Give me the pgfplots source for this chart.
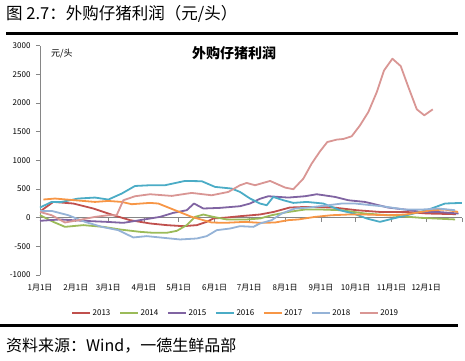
\documentclass[border=0pt]{standalone}
\usepackage{fontspec}
\setmainfont{Noto Sans CJK SC}
\usepackage{pgfplots}
\pgfplotsset{compat=1.18}
\definecolor{cA}{HTML}{C0504D}
\definecolor{cB}{HTML}{9BBB59}
\definecolor{cC}{HTML}{8064A2}
\definecolor{cD}{HTML}{4BACC6}
\definecolor{cE}{HTML}{F79646}
\definecolor{cF}{HTML}{95B3D7}
\definecolor{cG}{HTML}{D99694}
\definecolor{axgray}{HTML}{868686}
\begin{document}
\begin{tikzpicture}
\useasboundingbox (0,0) rectangle (465pt,360pt);
\node[anchor=base west, inner sep=0pt, font=\fontsize{16.5}{16.5}\selectfont] at (6pt,341pt) {图 2.7：外购仔猪利润（元/头）};
\draw[line width=3pt] (6pt,327pt) -- (458pt,327pt);
\draw[line width=3pt] (0pt,35pt) -- (458pt,35pt);
\node[anchor=base west, inner sep=0pt, font=\fontsize{16}{16}\selectfont] at (6pt,9pt) {资料来源：Wind，一德生鲜品部};

\begin{axis}[at={(40pt,85pt)}, anchor=south west, scale only axis,
  width=422pt, height=229.3pt, xmin=0, xmax=365, ymin=-1000, ymax=3000,
  axis x line=middle, axis y line=none, x axis line style={axgray, -, line width=0.8pt},
  xtick={0,31,59,90,120,151,181,212,243,273,304,334,365}, xticklabels={},
  xtick align=outside, major tick length=4pt, xtick style={axgray, line width=0.8pt}]
\end{axis}

\begin{axis}[at={(40pt,85pt)}, anchor=south west, scale only axis,
  width=422pt, height=229.3pt, xmin=0, xmax=365, ymin=-1000, ymax=3000,
  axis y line*=left, axis x line*=bottom,
  x axis line style={draw=none}, y axis line style={axgray, line width=0.8pt},
  ytick={-1000,-500,0,500,1000,1500,2000,2500,3000},
  ytick align=outside, major tick length=4pt, ytick style={axgray, line width=0.8pt},
  xtick={0,31,59,90,120,151,181,212,243,273,304,334},
  xticklabels={1月1日,2月1日,3月1日,4月1日,5月1日,6月1日,7月1日,8月1日,9月1日,10月1日,11月1日,12月1日},
  xtick style={draw=none},
  xticklabel style={yshift=-6pt},
  yticklabel style={xshift=-2pt},
  ticklabel style={font=\fontsize{8}{9}\selectfont},
  /pgf/number format/assume math mode=true,
  /pgf/number format/set thousands separator={},
  every axis plot/.append style={line width=1.8pt, no markers, line join=round},
  legend style={at={(0.464,-0.166)}, anchor=center, draw=none, legend columns=7,
    font=\fontsize{8}{9}\selectfont, /tikz/every even column/.append style={column sep=7pt}},
  legend image code/.code={\draw[mark repeat=2,mark phase=2,#1] plot coordinates {(0pt,0pt) (9pt,0pt) (18pt,0pt)};},
  legend image post style={line width=1.2pt},
  clip=false]
\addplot[color=cA] coordinates {(1.5,130)(11.5,275)(28.8,247)(46.1,160)(63.4,43)(77.9,-43)(95.2,-101)(109.6,-130)(124,-148)(135.6,-130)(144.2,-73)(149.9,-14)(161.5,3)(173,26)(190,55)(202,100)(216,177)(231,188)(254,177)(274,130)(294,100)(317,100)(334.5,73)(360,61)};
\addlegendentry{2013}
\addplot[color=cB] coordinates {(0,43)(11.5,-73)(21.6,-160)(37.5,-130)(54.8,-160)(69.2,-206)(86.5,-247)(98,-264)(109.6,-264)(118.3,-230)(126.9,-130)(134.1,14)(141.3,55)(149.9,14)(161.5,-31)(178.8,-31)(190.3,-14)(200.4,43)(214.8,100)(229.2,142)(243.7,142)(261,130)(281,73)(301,43)(330,-3)(359,-31)};
\addlegendentry{2014}
\addplot[color=cC] coordinates {(0,-55)(17.3,-31)(37.5,-55)(57.7,-73)(72.1,-90)(86.5,-43)(103.8,14)(115.3,84)(126.9,130)(133.2,247)(141.3,160)(155.7,171)(173,200)(181.7,247)(190.3,330)(197.5,374)(214.8,351)(229.2,374)(239.4,409)(255.2,362)(266.7,304)(281,275)(287,247)(301,177)(315.7,142)(330,100)(344,100)(362,73)};
\addlegendentry{2015}
\addplot[color=cD] coordinates {(0,177)(10.1,275)(18.8,275)(33.1,334)(47.6,351)(59.1,316)(70.7,421)(82.2,553)(95.2,566)(108.1,566)(125.4,641)(139.9,636)(151.4,537)(165.8,508)(173,449)(181.7,334)(190.3,247)(196.1,217)(201.8,362)(210.5,304)(219.1,258)(230.7,275)(245,247)(259.5,130)(271,73)(282.6,-14)(294,-73)(305.6,-14)(317.2,43)(334.5,130)(350.3,247)(364.8,258)};
\addlegendentry{2016}
\addplot[color=cE] coordinates {(2.9,317)(13,334)(30.3,304)(47.6,275)(59.1,292)(70.7,275)(79.3,235)(95.2,258)(102.3,247)(116.8,130)(131.2,14)(148.5,-84)(160,-90)(177.3,-73)(190.3,-90)(203.3,-84)(214.8,-43)(223.4,-31)(237.9,14)(252.3,43)(266.7,55)(281,55)(301,43)(315.7,55)(338.8,130)(350.3,142)(361.6,100)};
\addlegendentry{2017}
\addplot[color=cF] coordinates {(0,118)(10.1,118)(24.5,43)(38.9,-73)(53.4,-160)(67.7,-218)(80.7,-345)(92.3,-322)(103.8,-345)(121.1,-380)(135.6,-363)(144.2,-322)(152.9,-218)(164.4,-189)(173,-148)(184.5,-160)(190.3,-101)(200.4,-43)(209.1,73)(220.6,160)(232.1,177)(249.4,217)(261,247)(272.5,247)(281,229)(295.6,200)(315.7,142)(330.2,142)(344.3,160)(359,130)};
\addlegendentry{2018}
\addplot[color=cG] coordinates {(0,100)(10.1,43)(21.6,-84)(33.1,-43)(47.6,14)(59.1,43)(66.3,43)(72.1,304)(82.2,374)(95.2,409)(113.9,380)(131.2,432)(148.5,391)(162.9,449)(173,566)(178.8,606)(186,566)(199,641)(211.9,526)(219.1,496)(227.8,682)(235,944)(242.2,1158)(248.5,1320)(256.7,1362)(262.4,1373)(269.6,1420)(276.8,1611)(284,1843)(291.3,2191)(297.6,2570)(304.8,2773)(312,2644)(318.6,2279)(325.9,1890)(332.4,1786)(339.7,1890)};
\addlegendentry{2019}
\node[font=\fontsize{14}{14}\selectfont\bfseries, anchor=center] at (rel axis cs:0.46,0.968) {外购仔猪利润};
\node[font=\fontsize{9}{9}\selectfont, anchor=center] at (rel axis cs:0.052,0.965) {元/头};
\end{axis}
\end{tikzpicture}
\end{document}
